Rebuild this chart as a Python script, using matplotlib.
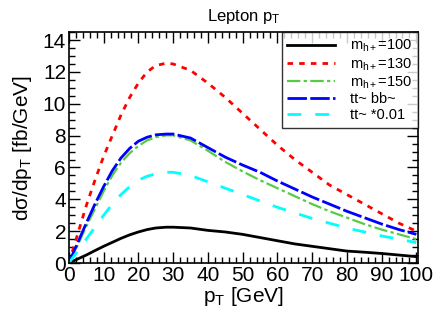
import matplotlib
matplotlib.use("Agg")
import matplotlib.pyplot as plt
from matplotlib.ticker import MultipleLocator

plt.rcParams['font.family'] = ['Liberation Sans', 'DejaVu Sans']
plt.rcParams['mathtext.fontset'] = 'custom'
plt.rcParams['mathtext.rm'] = 'Liberation Sans'
plt.rcParams['mathtext.it'] = 'Liberation Sans'

# values
pt = [0, 2.5, 5, 7.5, 10, 12.5, 15, 17.5, 20, 22.5, 25, 28, 30, 35, 40, 45, 50,
      55, 60, 65, 70, 75, 80, 85, 90, 95, 100]
m100 = [0, 0.25, 0.5, 0.78, 1.05, 1.3, 1.55, 1.77, 1.95, 2.1, 2.2, 2.25, 2.25,
        2.2, 2.05, 1.95, 1.8, 1.6, 1.4, 1.2, 1.05, 0.9, 0.75, 0.68, 0.6, 0.5, 0.4]
m130 = [0, 1.8, 3.6, 5.2, 6.7, 8.0, 9.3, 10.4, 11.3, 12.0, 12.4, 12.55, 12.5,
        12.1, 11.3, 10.4, 9.4, 8.4, 7.4, 6.5, 5.7, 4.9, 4.3, 3.7, 3.1, 2.5, 2.0]
m150 = [0, 1.1, 2.3, 3.4, 4.5, 5.5, 6.3, 6.9, 7.35, 7.7, 7.9, 8.02, 8.02,
        7.7, 7.05, 6.35, 5.75, 5.2, 4.7, 4.2, 3.7, 3.25, 2.85, 2.45, 2.1, 1.8, 1.5]
ttbb = [0, 1.25, 2.5, 3.7, 4.8, 5.8, 6.6, 7.2, 7.65, 7.9, 8.05, 8.1, 8.1,
        7.85, 7.25, 6.65, 6.15, 5.7, 5.15, 4.65, 4.15, 3.7, 3.25, 2.85, 2.45, 2.1, 1.8]
tt = [0, 0.75, 1.5, 2.25, 3.0, 3.7, 4.3, 4.8, 5.2, 5.45, 5.6, 5.7, 5.7,
      5.5, 5.1, 4.7, 4.3, 3.9, 3.5, 3.15, 2.8, 2.5, 2.2, 1.95, 1.7, 1.5, 1.28]

labels = ['m$_{\\mathrm{h+}}$=100', 'm$_{\\mathrm{h+}}$=130', 'm$_{\\mathrm{h+}}$=150',
          'tt~ bb~', 'tt~ *0.01']

fig = plt.figure(figsize=(4.36, 3.15), dpi=100)
ax = fig.add_axes([0.158, 0.165, 0.801, 0.733])

ax.plot(pt, m100, color='black', lw=2, label=labels[0])
ax.plot(pt, m130, color='red', lw=2, dashes=(2, 2.2), label=labels[1])
ax.plot(pt, m150, color='#55cc44', lw=1.6, dashes=(6, 1.5, 1.5, 1.5), label=labels[2])
ax.plot(pt, ttbb, color='blue', lw=2, dashes=(7, 1.2), label=labels[3])
ax.plot(pt, tt, color='cyan', lw=2, dashes=(5, 5), label=labels[4])

ax.set_xlim(0, 100.5)
ax.set_ylim(0, 14.5)
ax.xaxis.set_major_locator(MultipleLocator(10))
ax.xaxis.set_minor_locator(MultipleLocator(2))
ax.yaxis.set_major_locator(MultipleLocator(2))
ax.yaxis.set_minor_locator(MultipleLocator(0.5))
ax.tick_params(which='both', direction='in', top=True, right=True, labelsize=15, pad=2)
ax.tick_params(which='major', length=8, width=1)
ax.tick_params(which='minor', length=4, width=1)
for s in ax.spines.values():
    s.set_linewidth(1.2)

ax.set_xlabel('p$_{\\mathrm{T}}$ [GeV]', fontsize=15, labelpad=0)
ax.set_ylabel('d\u03c3/dp$_{\\mathrm{T}}$ [fb/GeV]', fontsize=15, labelpad=6)
ax.set_title('Lepton p$_{\\mathrm{T}}$', fontsize=12, pad=8)

leg = ax.legend(loc='upper right', bbox_to_anchor=(1.0, 1.0), fontsize=10.5,
                frameon=True, fancybox=False, borderaxespad=0, handlelength=3.3,
                handletextpad=1.0, labelspacing=0.12, borderpad=0.4)
leg.get_frame().set_edgecolor('black')
leg.get_frame().set_linewidth(1)

fig.savefig('out.png', dpi=100)
